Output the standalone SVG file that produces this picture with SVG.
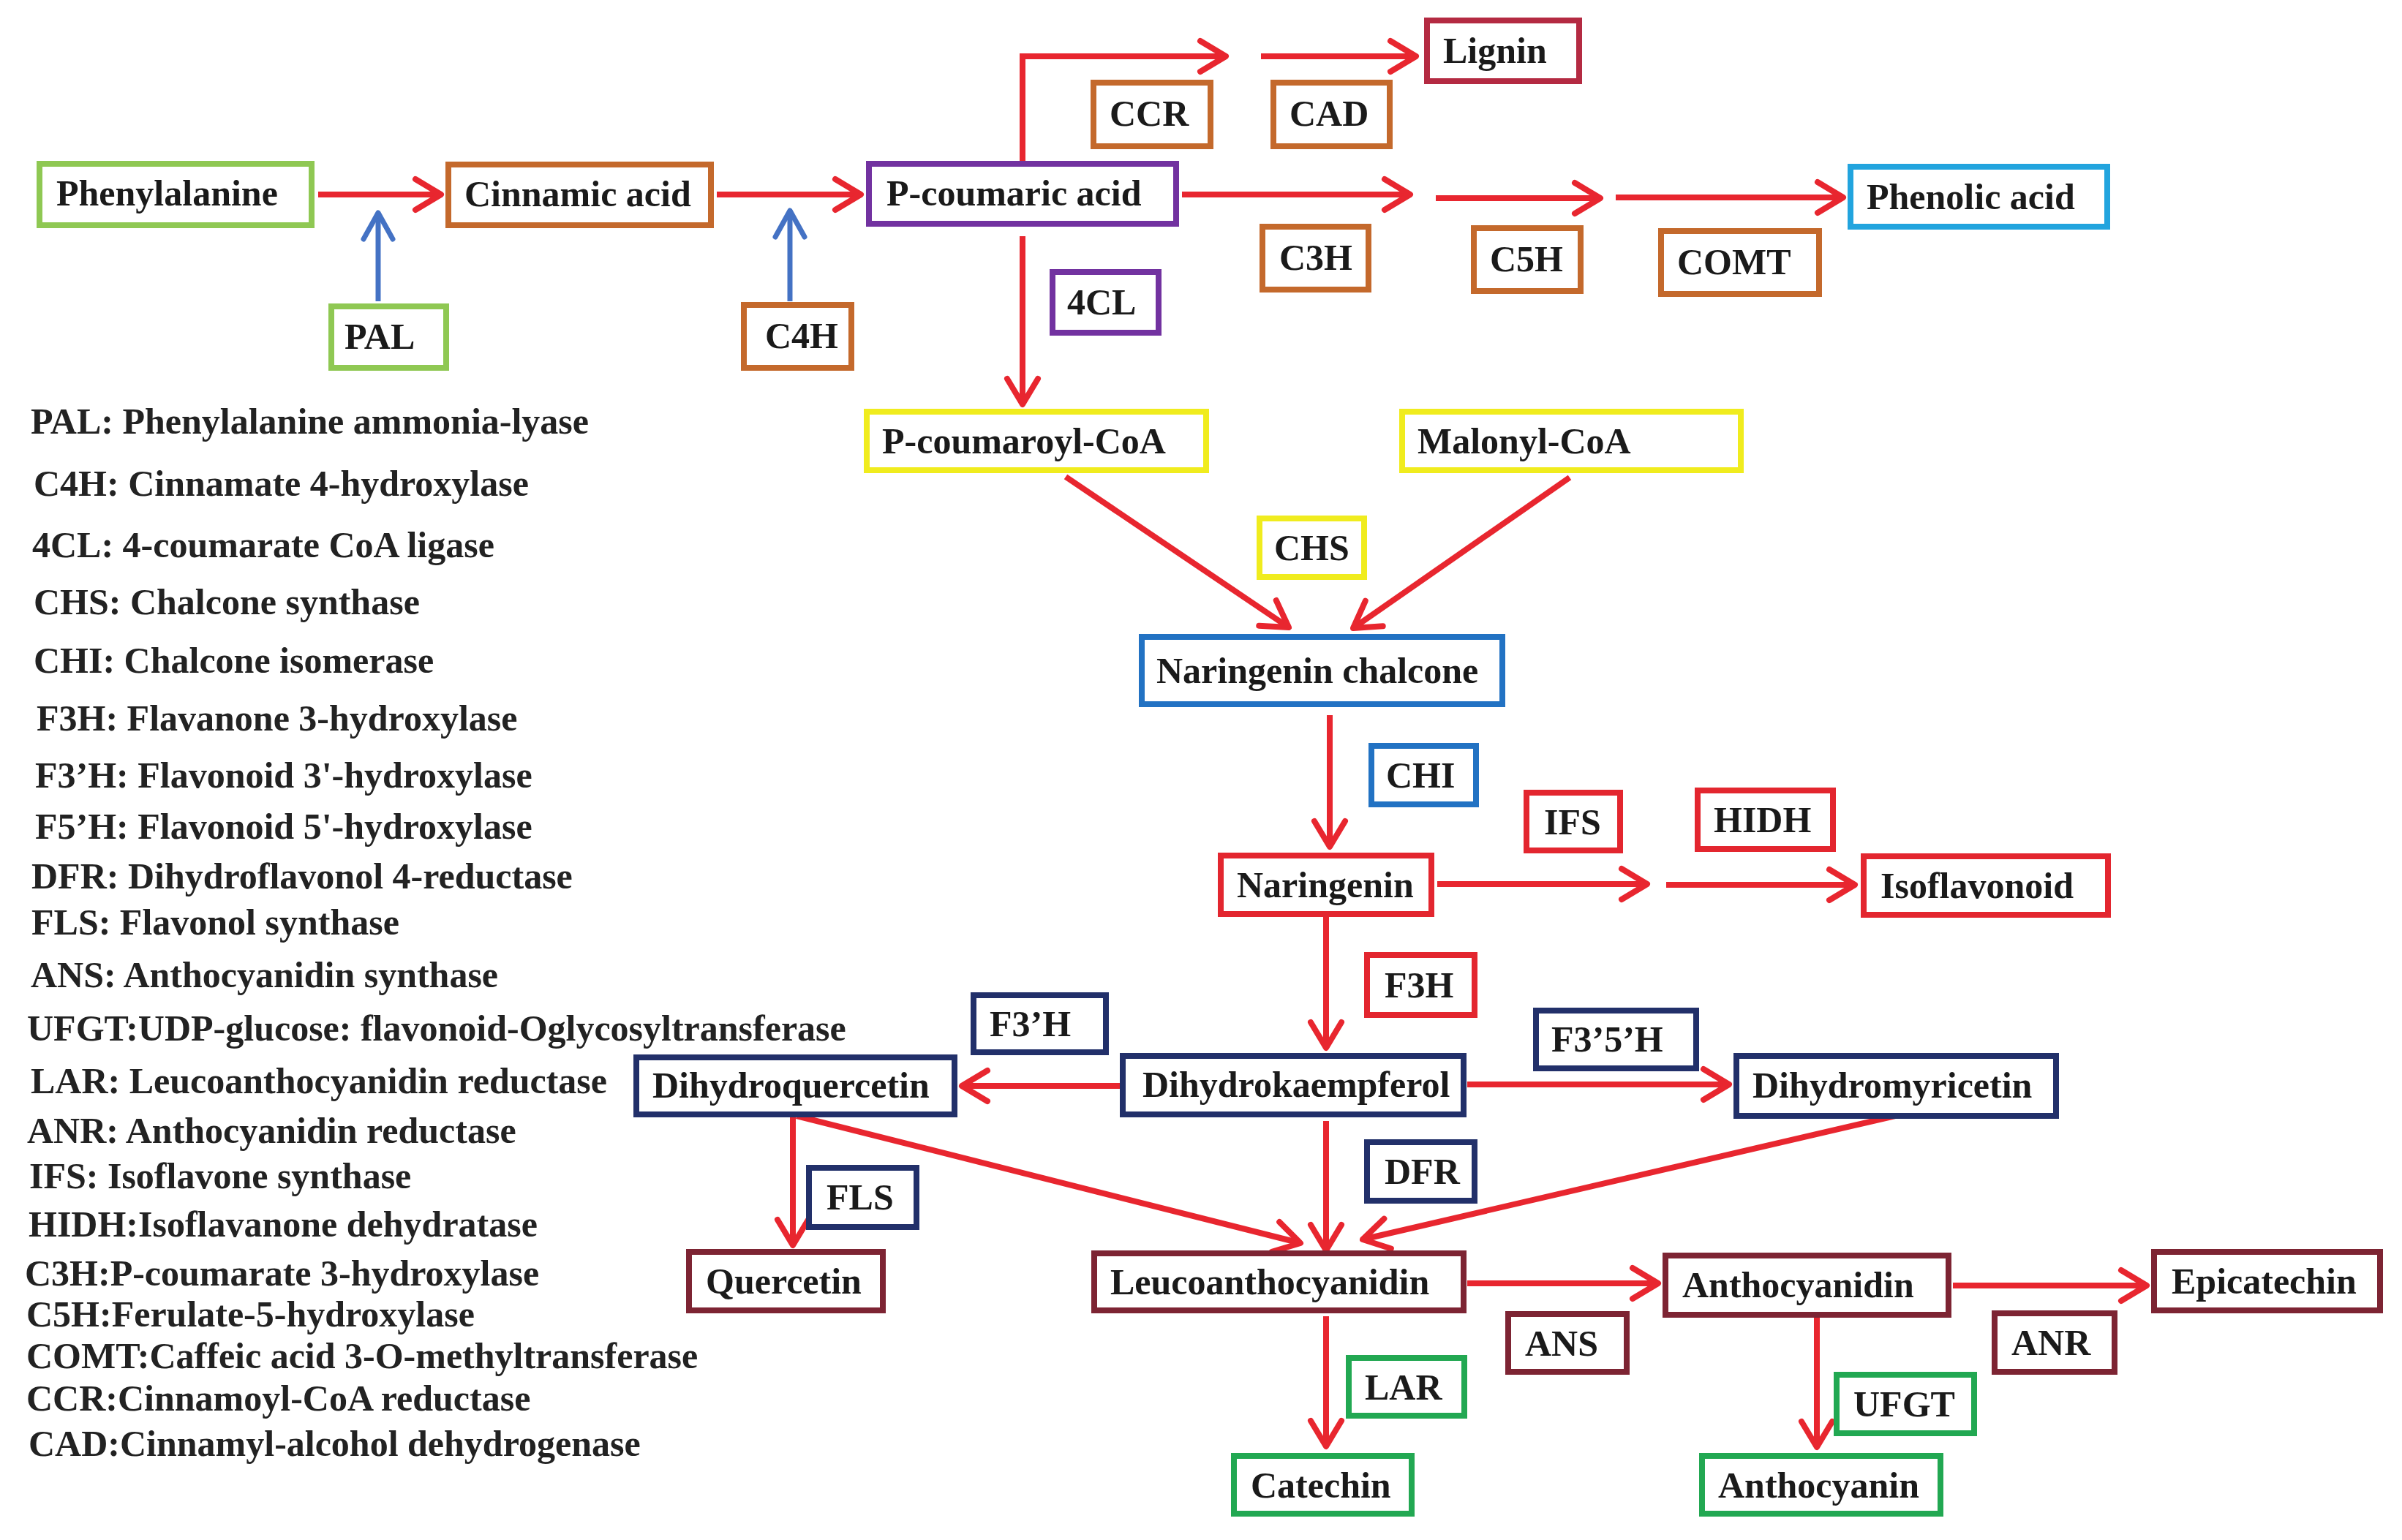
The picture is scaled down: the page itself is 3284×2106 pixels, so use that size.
<svg xmlns="http://www.w3.org/2000/svg" width="3284" height="2106" viewBox="0 0 3284 2106">
<style>
.box{fill:#ffffff;stroke-width:8}
.t{font-family:"Liberation Serif","Times New Roman",serif;font-weight:bold;font-size:50px;fill:#1a1a1a}
.lg{font-family:"Liberation Serif","Times New Roman",serif;font-weight:bold;font-size:50px;fill:#222222}
.red{fill:none;stroke:#e8262f;stroke-width:8;marker-end:url(#ar)}
.blue{fill:none;stroke:#4472c4;stroke-width:7;marker-end:url(#ab)}
.g1{stroke:#8fc853}.br{stroke:#c4692c}.pu{stroke:#7232a0}.lig{stroke:#b42a42}.sky{stroke:#22a4de}
.ye{stroke:#f0ec1e}.bl{stroke:#2272c3}.rd{stroke:#e3262f}.nv{stroke:#22306a}.mr{stroke:#7d2433}.gr{stroke:#22a852}
</style>
<defs>
<marker id="ar" markerUnits="userSpaceOnUse" markerWidth="60" markerHeight="60" viewBox="-50 -30 60 60" refX="0" refY="0" orient="auto" overflow="visible">
<path d="M-35,-21 L0,0 L-35,21" fill="none" stroke="#e8262f" stroke-width="8" stroke-linecap="round" stroke-linejoin="round"/>
</marker>
<marker id="ab" markerUnits="userSpaceOnUse" markerWidth="60" markerHeight="60" viewBox="-50 -30 60 60" refX="0" refY="0" orient="auto" overflow="visible">
<path d="M-36,-20 L0,0 L-36,20" fill="none" stroke="#4472c4" stroke-width="7" stroke-linecap="round" stroke-linejoin="round"/>
</marker>
</defs>
<rect x="0" y="0" width="3284" height="2106" fill="#ffffff"/>

<g id="connectors">
<path class="red" d="M435,266 H603"/>
<path class="red" d="M980,266 H1177"/>
<path class="blue" d="M517,412 V291"/>
<path class="blue" d="M1080,412 V288"/>
<path class="red" d="M1398,220 V77 H1676"/>
<path class="red" d="M1724,77 H1936"/>
<path class="red" d="M1616,266 H1928"/>
<path class="red" d="M1963,271 H2188"/>
<path class="red" d="M2209,270 H2520"/>
<path class="red" d="M1398,323 V553"/>
<path class="red" d="M1457,652 L1762,858"/>
<path class="red" d="M2146,653 L1850,859"/>
<path class="red" d="M1818,978 V1158"/>
<path class="red" d="M1965,1209 H2252"/>
<path class="red" d="M2278,1210 H2536"/>
<path class="red" d="M1813,1254 V1433"/>
<path class="red" d="M1531,1485 H1315"/>
<path class="red" d="M2006,1483 H2364"/>
<path class="red" d="M1084,1528 V1703"/>
<path class="red" d="M1089,1526 L1778,1700"/>
<path class="red" d="M1813,1533 V1710"/>
<path class="red" d="M2591,1526 L1863,1695"/>
<path class="red" d="M2006,1755 H2267"/>
<path class="red" d="M2670,1758 H2935"/>
<path class="red" d="M1813,1800 V1978"/>
<path class="red" d="M2484,1802 V1979"/>
</g>

<g id="n-phenylalanine"><rect class="box g1" x="54" y="224" width="372" height="84"/><text class="t" x="77" y="281">Phenylalanine</text></g>
<g id="n-cinnamic"><rect class="box br" x="613" y="225" width="359" height="83"/><text class="t" x="635" y="282">Cinnamic acid</text></g>
<g id="n-pal"><rect class="box g1" x="453" y="419" width="157" height="84"/><text class="t" x="471" y="477">PAL</text></g>
<g id="n-c4h"><rect class="box br" x="1017" y="417" width="147" height="86"/><text class="t" x="1046" y="476">C4H</text></g>
<g id="n-pcoumaric"><rect class="box pu" x="1188" y="224" width="420" height="82"/><text class="t" x="1212" y="281">P-coumaric acid</text></g>
<g id="n-ccr"><rect class="box br" x="1495" y="113" width="160" height="87"/><text class="t" x="1517" y="172">CCR</text></g>
<g id="n-cad"><rect class="box br" x="1741" y="113" width="159" height="87"/><text class="t" x="1763" y="172">CAD</text></g>
<g id="n-lignin"><rect class="box lig" x="1951" y="28" width="208" height="83"/><text class="t" x="1973" y="86">Lignin</text></g>
<g id="n-c3h"><rect class="box br" x="1726" y="310" width="145" height="86"/><text class="t" x="1749" y="369">C3H</text></g>
<g id="n-c5h"><rect class="box br" x="2015" y="312" width="146" height="86"/><text class="t" x="2037" y="371">C5H</text></g>
<g id="n-comt"><rect class="box br" x="2271" y="316" width="216" height="86"/><text class="t" x="2293" y="375">COMT</text></g>
<g id="n-phenolic"><rect class="box sky" x="2530" y="228" width="351" height="82"/><text class="t" x="2552" y="286">Phenolic acid</text></g>
<g id="n-4cl"><rect class="box pu" x="1439" y="372" width="145" height="83"/><text class="t" x="1459" y="430">4CL</text></g>
<g id="n-pcoumaroyl"><rect class="box ye" x="1185" y="563" width="464" height="80"/><text class="t" x="1206" y="620">P-coumaroyl-CoA</text></g>
<g id="n-malonyl"><rect class="box ye" x="1917" y="563" width="463" height="80"/><text class="t" x="1938" y="620">Malonyl-CoA</text></g>
<g id="n-chs"><rect class="box ye" x="1722" y="709" width="143" height="80"/><text class="t" x="1742" y="766">CHS</text></g>
<g id="n-chalcone"><rect class="box bl" x="1561" y="871" width="493" height="92"/><text class="t" x="1581" y="934">Naringenin chalcone</text></g>
<g id="n-chi"><rect class="box bl" x="1875" y="1020" width="143" height="80"/><text class="t" x="1895" y="1077">CHI</text></g>
<g id="n-naringenin"><rect class="box rd" x="1669" y="1170" width="288" height="80"/><text class="t" x="1691" y="1227">Naringenin</text></g>
<g id="n-ifs"><rect class="box rd" x="2087" y="1084" width="128" height="79"/><text class="t" x="2111" y="1141">IFS</text></g>
<g id="n-hidh"><rect class="box rd" x="2321" y="1081" width="185" height="80"/><text class="t" x="2343" y="1138">HIDH</text></g>
<g id="n-isoflavonoid"><rect class="box rd" x="2548" y="1171" width="334" height="80"/><text class="t" x="2571" y="1228">Isoflavonoid</text></g>
<g id="n-f3h"><rect class="box rd" x="1869" y="1306" width="147" height="82"/><text class="t" x="1893" y="1364">F3H</text></g>
<g id="n-f3ph"><rect class="box nv" x="1331" y="1361" width="181" height="78"/><text class="t" x="1353" y="1417">F3’H</text></g>
<g id="n-dihydroquercetin"><rect class="box nv" x="870" y="1446" width="435" height="78"/><text class="t" x="892" y="1501">Dihydroquercetin</text></g>
<g id="n-dihydrokaempferol"><rect class="box nv" x="1535" y="1444" width="466" height="80"/><text class="t" x="1562" y="1500">Dihydrokaempferol</text></g>
<g id="n-f35h"><rect class="box nv" x="2100" y="1382" width="219" height="79"/><text class="t" x="2121" y="1438">F3’5’H</text></g>
<g id="n-dihydromyricetin"><rect class="box nv" x="2374" y="1444" width="437" height="82"/><text class="t" x="2396" y="1501">Dihydromyricetin</text></g>
<g id="n-fls"><rect class="box nv" x="1106" y="1597" width="147" height="81"/><text class="t" x="1130" y="1654">FLS</text></g>
<g id="n-dfr"><rect class="box nv" x="1869" y="1562" width="147" height="80"/><text class="t" x="1893" y="1619">DFR</text></g>
<g id="n-quercetin"><rect class="box mr" x="942" y="1712" width="265" height="80"/><text class="t" x="965" y="1769">Quercetin</text></g>
<g id="n-leuco"><rect class="box mr" x="1496" y="1714" width="505" height="78"/><text class="t" x="1518" y="1770">Leucoanthocyanidin</text></g>
<g id="n-anthocyanidin"><rect class="box mr" x="2277" y="1717" width="387" height="81"/><text class="t" x="2300" y="1774">Anthocyanidin</text></g>
<g id="n-epicatechin"><rect class="box mr" x="2945" y="1712" width="309" height="80"/><text class="t" x="2969" y="1769">Epicatechin</text></g>
<g id="n-ans"><rect class="box mr" x="2062" y="1797" width="162" height="79"/><text class="t" x="2085" y="1854">ANS</text></g>
<g id="n-anr"><rect class="box mr" x="2727" y="1796" width="164" height="80"/><text class="t" x="2750" y="1853">ANR</text></g>
<g id="n-lar"><rect class="box gr" x="1844" y="1857" width="158" height="79"/><text class="t" x="1866" y="1914">LAR</text></g>
<g id="n-ufgt"><rect class="box gr" x="2511" y="1880" width="188" height="80"/><text class="t" x="2534" y="1937">UFGT</text></g>
<g id="n-catechin"><rect class="box gr" x="1687" y="1991" width="243" height="79"/><text class="t" x="1710" y="2048">Catechin</text></g>
<g id="n-anthocyanin"><rect class="box gr" x="2327" y="1991" width="326" height="79"/><text class="t" x="2349" y="2048">Anthocyanin</text></g>

<g id="legend">
<text class="lg" x="42" y="593">PAL: Phenylalanine ammonia-lyase</text>
<text class="lg" x="46" y="678">C4H: Cinnamate 4-hydroxylase</text>
<text class="lg" x="44" y="762">4CL: 4-coumarate CoA ligase</text>
<text class="lg" x="46" y="840">CHS: Chalcone synthase</text>
<text class="lg" x="46" y="920">CHI: Chalcone isomerase</text>
<text class="lg" x="50" y="999">F3H: Flavanone 3-hydroxylase</text>
<text class="lg" x="48" y="1077">F3’H: Flavonoid 3'-hydroxylase</text>
<text class="lg" x="48" y="1147">F5’H: Flavonoid 5'-hydroxylase</text>
<text class="lg" x="43" y="1215">DFR: Dihydroflavonol 4-reductase</text>
<text class="lg" x="43" y="1278">FLS: Flavonol synthase</text>
<text class="lg" x="42" y="1350">ANS: Anthocyanidin synthase</text>
<text class="lg" x="37" y="1423">UFGT:UDP-glucose: flavonoid-Oglycosyltransferase</text>
<text class="lg" x="42" y="1495">LAR: Leucoanthocyanidin reductase</text>
<text class="lg" x="37" y="1563">ANR: Anthocyanidin reductase</text>
<text class="lg" x="40" y="1625">IFS: Isoflavone synthase</text>
<text class="lg" x="39" y="1691">HIDH:Isoflavanone dehydratase</text>
<text class="lg" x="34" y="1758">C3H:P-coumarate 3-hydroxylase</text>
<text class="lg" x="36" y="1814">C5H:Ferulate-5-hydroxylase</text>
<text class="lg" x="36" y="1871">COMT:Caffeic acid 3-O-methyltransferase</text>
<text class="lg" x="36" y="1929">CCR:Cinnamoyl-CoA reductase</text>
<text class="lg" x="39" y="1991">CAD:Cinnamyl-alcohol dehydrogenase</text>
</g>
</svg>
